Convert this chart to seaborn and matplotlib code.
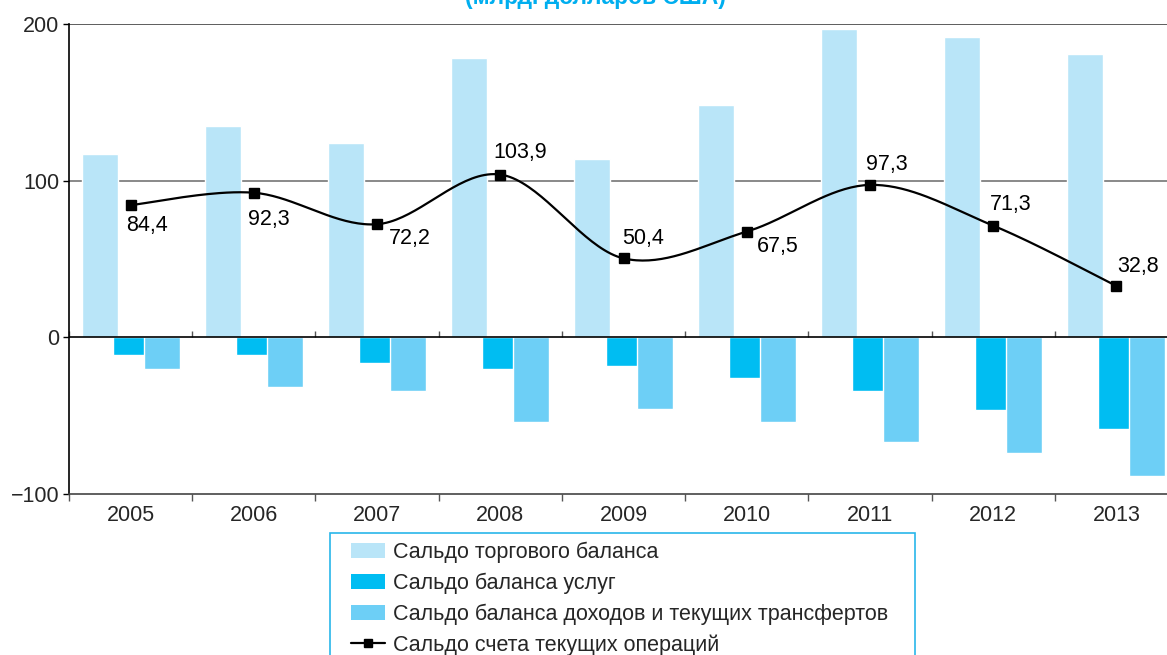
"""Russian current account components, 2005-2013 (bar + smoothed line)."""

import matplotlib.pyplot as plt
import numpy as np
import pandas as pd
import seaborn as sns
from matplotlib.lines import Line2D
from matplotlib.patches import Patch, Rectangle

# --- data ---
years = ["2005", "2006", "2007", "2008", "2009", "2010", "2011", "2012", "2013"]
trade_balance = [117, 135, 124, 178, 114, 148, 197, 192, 181]
services_balance = [-11.5, -11, -16.5, -20.5, -18, -26, -34, -46.5, -58.5]
income_transfers = [-20.5, -32, -34.5, -54, -45.5, -54, -66.5, -74, -88.5]
current_account = [84.4, 92.3, 72.2, 103.9, 50.4, 67.5, 97.3, 71.3, 32.8]

series_names = [
    "Сальдо торгового баланса",
    "Сальдо баланса услуг",
    "Сальдо баланса доходов и текущих трансфертов",
]
line_name = "Сальдо счета текущих операций"
title = "(млрд. долларов США)"

colors = ["#b9e5f8", "#00bdf2", "#6dcff6"]
# label offsets in pixels (dx, dy) relative to each marker
label_offsets = [(16, -20), (15, -27), (33, -14), (20, 22), (20, 20),
                 (31, -15), (17, 20), (18, 21), (22, 19)]
FS = 15.5


def catmull_rom(xs, ys, n=40):
    """Excel-like smoothed curve through the points."""
    pts = np.column_stack([xs, ys]).astype(float)
    pts = np.vstack([pts[0], pts, pts[-1]])
    out = []
    t = np.linspace(0, 1, n)[:, None]
    for i in range(1, len(pts) - 2):
        p0, p1, p2, p3 = pts[i - 1], pts[i], pts[i + 1], pts[i + 2]
        seg = 0.5 * ((2 * p1) + (-p0 + p2) * t
                     + (2 * p0 - 5 * p1 + 4 * p2 - p3) * t ** 2
                     + (-p0 + 3 * p1 - 3 * p2 + p3) * t ** 3)
        out.append(seg)
    out = np.vstack(out)
    return out[:, 0], out[:, 1]


df = pd.DataFrame({
    "year": years * 3,
    "series": sum([[name] * len(years) for name in series_names], []),
    "value": trade_balance + services_balance + income_transfers,
})

sns.set_theme(style="white")
plt.rcParams["font.family"] = ["Liberation Sans", "DejaVu Sans"]

W, H = 1167, 655
fig = plt.figure(figsize=(W / 100, H / 100), dpi=100)
ax = fig.add_axes([69 / W, (H - 494) / H, (1178 - 69) / W, (494 - 24) / H])

sns.barplot(data=df, x="year", y="value", hue="series", hue_order=series_names,
            palette=colors, saturation=1, width=0.756, legend=False, ax=ax)

# bars slightly overlap in the original -> widen each one around its centre
extra = 0.04
for p in ax.patches:
    p.set_x(p.get_x() - extra / 2)
    p.set_width(p.get_width() + extra)

# smoothed current-account line
xpos = np.arange(len(years))
sx, sy = catmull_rom(xpos, current_account)
ax.plot(sx, sy, color="black", lw=1.6, zorder=5)
ax.plot(xpos, current_account, ls="none", marker="s", ms=6.5, color="black", zorder=6)

for x, v, (dx, dy) in zip(xpos, current_account, label_offsets):
    ax.annotate(f"{v:.1f}".replace(".", ","), (x, v), xytext=(dx, dy),
                textcoords="offset pixels", ha="center", va="center",
                fontsize=FS, color="black", zorder=7)

# axes cosmetics
ax.set_ylim(-100, 200)
ax.set_xlim(-0.5, len(years) - 0.5)
ax.set_yticks([-100, 0, 100, 200])
ax.set_yticklabels(["−100", "0", "100", "200"])
ax.set_xlabel("")
ax.set_ylabel("")
ax.axhline(100, color="#808080", lw=1.3, zorder=0.5)
ax.axhline(200, color="#505050", lw=1.3, zorder=0.5)
ax.axhline(0, color="black", lw=1.2, zorder=4)

ax.set_xticks(np.arange(-0.5, len(years), 1.0))
ax.set_xticklabels([])
ax.set_xticks(xpos, minor=True)
ax.set_xticklabels(years, minor=True)
ax.tick_params(axis="x", which="major", direction="out", length=5, width=1,
               color="#555555", bottom=True)
ax.tick_params(axis="x", which="minor", length=0, pad=8, labelsize=FS)
ax.tick_params(axis="y", direction="out", length=4, width=1, color="black",
               pad=3, labelsize=FS, left=True)

for side in ("top", "right"):
    ax.spines[side].set_visible(False)
ax.spines["left"].set_color("black")
ax.spines["left"].set_linewidth(1.2)
ax.spines["bottom"].set_color("#444444")
ax.spines["bottom"].set_linewidth(1.2)

# tick marks along the zero line
sec = ax.secondary_xaxis(1 / 3)
sec.set_xticks(np.arange(-0.5, len(years), 1.0))
sec.set_xticklabels([])
sec.tick_params(direction="in", length=4, width=1, color="#555555")
sec.spines["bottom"].set_visible(False)
sec.spines["top"].set_visible(False)

# title, cut by the top edge like in the source
fig.text(595 / W, 1 - 4 / H, title, ha="center", va="baseline",
         fontsize=16.5, fontweight="bold", color="#00aeef")

# legend: box drawn separately (wider side padding than matplotlib allows)
fig.patches.append(Rectangle((330 / W, -0.05), (915 - 330) / W, 0.05 + (H - 533) / H,
                             transform=fig.transFigure, facecolor="white",
                             edgecolor="#29b6ea", lw=1.2, zorder=0))
handles = [Patch(facecolor=c, edgecolor="none") for c in colors]
handles.append(Line2D([], [], color="black", lw=1.6, marker="s", ms=6))
fig.legend(handles, series_names + [line_name], loc="upper left",
           bbox_to_anchor=(351 / W, 1 - 542 / H), frameon=False,
           fontsize=FS, handlelength=1.58, handleheight=0.72,
           handletextpad=0.37, labelspacing=0.44, borderpad=0,
           borderaxespad=0)

fig.savefig("out.png", dpi=100, facecolor="white")
